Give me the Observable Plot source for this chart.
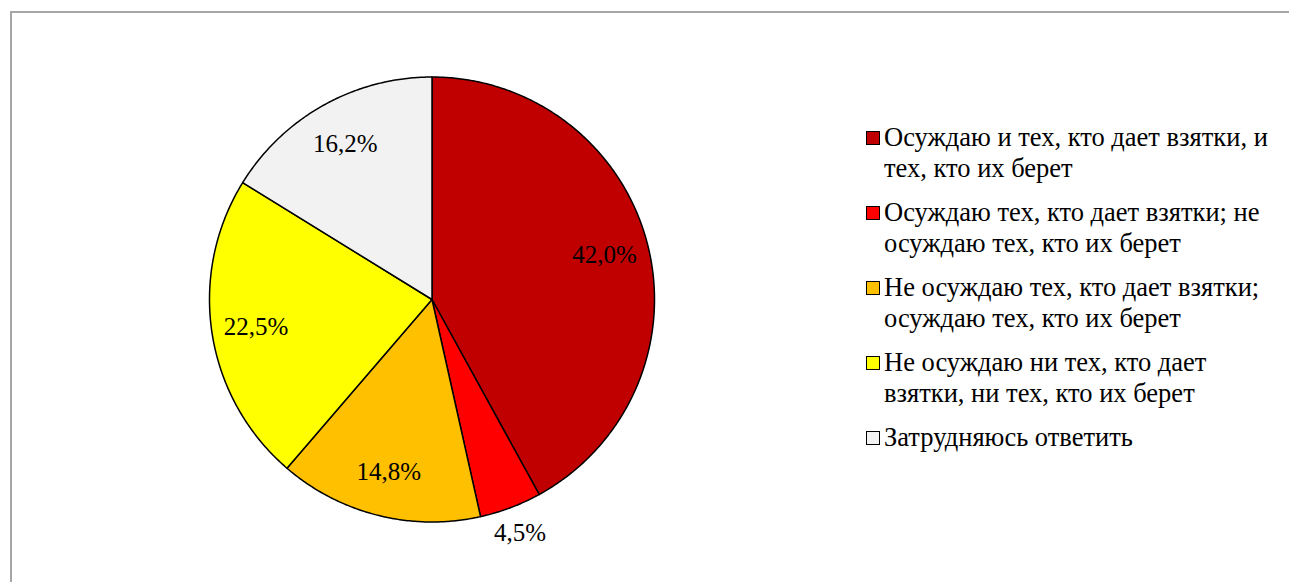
<!DOCTYPE html>
<html><head><meta charset="utf-8">
<script src="https://cdn.jsdelivr.net/npm/d3@7"></script>
<script src="https://cdn.jsdelivr.net/npm/@observablehq/plot@0.6"></script>
<style>
body{margin:0;background:#fff;}
#wrap{position:relative;width:1289px;height:582px;overflow:hidden;font-family:"Liberation Serif","Tinos","DejaVu Serif",serif;background:#fff;}
#chart{position:absolute;left:0;top:0;}
#frame{position:absolute;left:10px;top:11px;width:1400px;height:700px;border:2px solid #a6a6a6;box-sizing:border-box;pointer-events:none;}
#legend{position:absolute;left:866px;top:122px;}
.item{display:flex;align-items:flex-start;margin-bottom:14px;}
.sw{width:12px;height:12px;border:1.5px solid #000;margin-top:9px;margin-right:4px;flex:none;}
.lab{font-size:26.5px;line-height:30.5px;white-space:pre-line;color:#000;}
</style></head>
<body><div id="wrap"><div id="chart"></div><div id="frame"></div><div id="legend"></div></div>
<script>
const categories = [
  "Осуждаю и тех, кто дает взятки, и\nтех, кто их берет",
  "Осуждаю тех, кто дает взятки; не\nосуждаю тех, кто их берет",
  "Не осуждаю тех, кто дает взятки;\nосуждаю тех, кто их берет",
  "Не осуждаю ни тех, кто дает\nвзятки, ни тех, кто их берет",
  "Затрудняюсь ответить"
];
const values = [42.0, 4.5, 14.8, 22.5, 16.2];
const valueLabels = ["42,0%", "4,5%", "14,8%", "22,5%", "16,2%"];
const colors = ["#C00000", "#FF0000", "#FFC000", "#FFFF00", "#F2F2F2"];

const W = 1289, H = 582, cx = 431.5, cy = 299, R = 222.5;
const serif = "'Liberation Serif', Tinos, 'DejaVu Serif', serif";

const arcs = d3.pie().sort(null).startAngle(0).endAngle(2 * Math.PI)(values);
const pts = [];
arcs.forEach((a, i) => {
  const cat = categories[i];
  pts.push({cat, x: 0, y: 0});
  const n = Math.max(2, Math.ceil((a.endAngle - a.startAngle) / (Math.PI / 360)));
  for (let k = 0; k <= n; k++) {
    const t = a.startAngle + (a.endAngle - a.startAngle) * k / n;
    pts.push({cat, x: Math.sin(t), y: Math.cos(t)});
  }
  pts.push({cat, x: 0, y: 0});
});
const labelData = arcs.map((a, i) => {
  const m = (a.startAngle + a.endAngle) / 2;
  const r = values[i] < 5 ? 1.12 : 0.8;
  return {x: r * Math.sin(m), y: r * Math.cos(m), text: valueLabels[i]};
});

const plot = Plot.plot({
  width: W, height: H,
  margin: 0,
  x: {domain: [-cx / R, (W - cx) / R], range: [0, W], axis: null},
  y: {domain: [-(H - cy) / R, cy / R], range: [H, 0], axis: null},
  color: {domain: categories, range: colors},
  style: {fontFamily: serif, background: "transparent"},
  marks: [
    Plot.line(pts, {x: "x", y: "y", z: "cat", fill: "cat", stroke: "#000", strokeWidth: 1.5, strokeLinejoin: "round"}),
    Plot.text(labelData, {x: "x", y: "y", text: "text", fontSize: 25, fill: "#000", textAnchor: "middle", lineAnchor: "middle", fontFamily: serif})
  ]
});
document.getElementById("chart").appendChild(plot);

const legend = document.getElementById("legend");
categories.forEach((c, i) => {
  const item = document.createElement("div");
  item.className = "item";
  const sw = document.createElement("div");
  sw.className = "sw";
  sw.style.background = colors[i];
  const lab = document.createElement("div");
  lab.className = "lab";
  lab.textContent = c;
  item.appendChild(sw); item.appendChild(lab);
  legend.appendChild(item);
});
</script>
</body></html>
